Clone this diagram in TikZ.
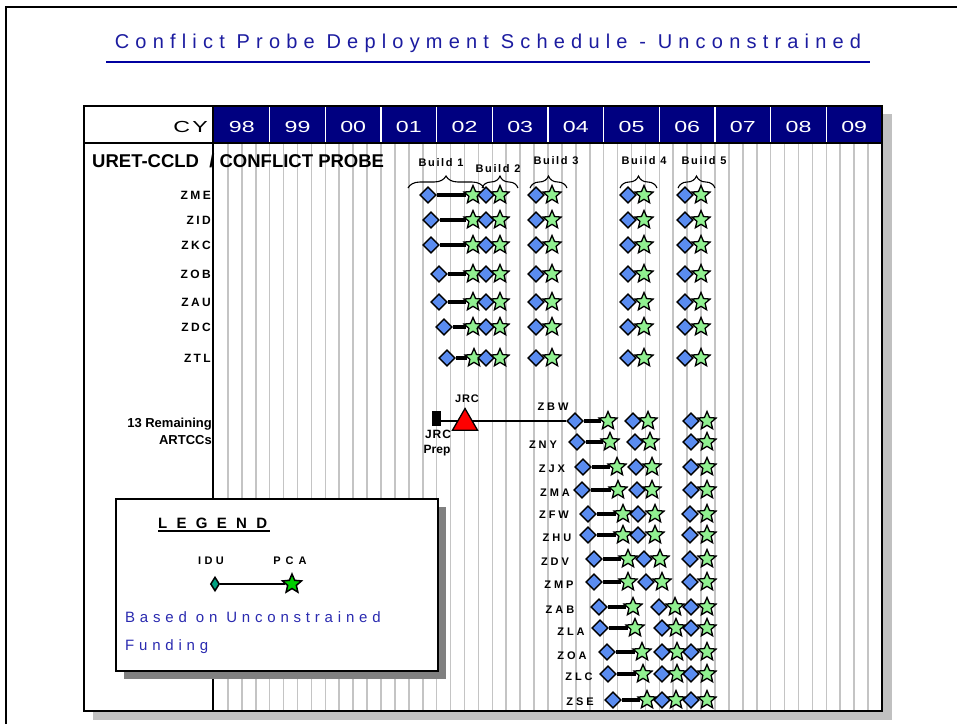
\documentclass[tikz,border=0pt]{standalone}
\usepackage{fontspec}
\setmainfont{Liberation Sans}
\usetikzlibrary{shapes.geometric,decorations.pathreplacing}
\pgfdeclarelayer{front}
\pgfsetlayers{main,front}
\definecolor{navy}{HTML}{000080}
\definecolor{ttlblue}{HTML}{1C1CA0}
\definecolor{lineblue}{HTML}{0000A0}
\definecolor{gridg}{HTML}{C4C4C4}
\definecolor{diab}{HTML}{5A8CF0}
\definecolor{starg}{HTML}{90F090}
\definecolor{legblue}{HTML}{2A2AB0}
\definecolor{shadowg}{HTML}{C0C0C0}
\definecolor{legshadow}{HTML}{808080}
\definecolor{legteal}{HTML}{00A080}
\definecolor{leggreen}{HTML}{00D000}
\newcommand\fs[1]{\fontsize{#1}{#1}\selectfont}
\newcommand\lsp[1]{\addfontfeature{LetterSpace=#1}}
\tikzset{
  dia/.style={diamond,draw=black,line width=1.4pt,fill=diab,minimum width=16.5pt,minimum height=16.5pt,inner sep=0pt},
  sta/.style={star,star points=5,star point ratio=2.2,draw=black,line width=1.3pt,fill=starg,minimum size=19pt,inner sep=0pt},
  bar/.style={line width=4.5pt,black},
  gridl/.style={gridg,line width=1.6pt},
  rowlab/.style={font=\fs{12}\bfseries\lsp{20},inner sep=0pt,anchor=east},
  lowlab/.style={font=\fs{11}\bfseries\lsp{27},inner sep=0pt},
  buildlab/.style={font=\fs{11}\bfseries\lsp{15},inner sep=0pt},
  yearlab/.style={text=white,inner sep=0pt},
  bracest/.style={decorate,decoration={brace,amplitude=12pt},line width=1.1pt},
}
\newcommand\mkb[4]{%
  \begin{pgfonlayer}{front}
  \node[dia] (#1d) at (#3,#2) {};
  \node[sta] (#1s) at (#4,#2) {};
  \end{pgfonlayer}
  \draw[bar] (#1d) -- (#1s);}
\newcommand\mk[4]{%
  \begin{pgfonlayer}{front}
  \node[dia] (#1d) at (#3,#2) {};
  \node[sta] (#1s) at (#4,#2) {};
  \end{pgfonlayer}}
\begin{document}
\begin{tikzpicture}[x=1pt,y=-1pt]
\useasboundingbox (0,0) rectangle (957,724);
\fill[white] (0,0) rectangle (957,724);
% outer frame
\draw[line width=2.5pt] (6,724) -- (6,7) -- (957,7);
% title
\node[font=\fs{20}\lsp{31},text=ttlblue,inner sep=0pt] (title) at (488,43) {Conflict Probe Deployment Schedule - Unconstrained};
\draw[lineblue,line width=2.2pt] (106,62) -- (870,62);
% table shadow and body
\fill[shadowg] (93,114) rectangle (892,720);
\fill[white] (84,106) rectangle (882,711);
\fill[navy] (214,106) rectangle (882,143);
\foreach \k in {1,...,11} \draw[white,line width=1.6pt] ({214+\k*55.667},106) -- ++(0,37);
\foreach \k in {1,...,47} \draw[gridl] ({214+\k*55.667/4},144) -- ++(0,567);
\draw[line width=2pt] (84,106) rectangle (882,711);
\draw[line width=2pt] (84,143) -- (882,143);
\draw[line width=2pt] (213,106) -- (213,711);
% header
\node[inner sep=0pt,anchor=east] (cy) at (208,127) {\scalebox{1.45}[1]{\fs{16}\lsp{10}CY}};
\foreach \yr [count=\i from 0] in {98,99,00,01,02,03,04,05,06,07,08,09}
  \node[yearlab] (yr\i) at ({214+(\i+0.5)*55.667},127) {\scalebox{1.45}[1]{\fs{16}\yr}};
% section labels
\node[font=\fs{18.5}\bfseries,inner sep=0pt,anchor=west] (uret) at (92,161) {URET-CCLD\ \ / CONFLICT PROBE};
\node[font=\fs{13}\bfseries,inner sep=0pt,anchor=east] (rem1) at (212,424) {13 Remaining};
\node[font=\fs{13}\bfseries,inner sep=0pt,anchor=east] (rem2) at (212,440) {ARTCCs};
% builds
\node[buildlab] (b1) at (441,163) {Build 1};
\node[buildlab] (b2) at (498,169) {Build 2};
\node[buildlab] (b3) at (556,161) {Build 3};
\node[buildlab] (b4) at (644,161) {Build 4};
\node[buildlab] (b5) at (704,161) {Build 5};
\draw[bracest] (408,188) -- (484,188);
\draw[bracest] (482,188) -- (518,188);
\draw[bracest] (530,188) -- (567,188);
\draw[bracest] (620,188) -- (657,188);
\draw[bracest] (678,188) -- (715,188);
% top rows
\foreach \n/\y/\a/\b in {ZME/195/428/473,ZID/220/431/473,ZKC/245/431/473,ZOB/274/439/473,ZAU/302/439/473,ZDC/327/444/473,ZTL/358/447/474}{
  \node[rowlab] (l\n) at (211,\y) {\n};
  \mkb{\n a}{\y}{\a}{\b}
  \mk{\n b}{\y}{486}{500}
  \mk{\n c}{\y}{536}{552}
  \mk{\n e}{\y}{628}{644}
  \mk{\n f}{\y}{685}{701}
}
% lower rows
\foreach \n/\y/\lx/\ly/\da/\sa/\db/\sb/\dc/\sc in {
  ZBW/421/553/407/575/608/633/648/691/707,
  ZNY/442/543/445/577/610/635/650/691/707,
  ZJX/467/552/469/583/617/636/652/691/707,
  ZMA/490/555/493/582/618/637/652/691/707,
  ZFW/514/554/515/588/623/638/655/690/707,
  ZHU/535/557/538/588/623/638/655/690/707,
  ZDV/559/555/562/594/628/644/660/690/707,
  ZMP/582/559/585/594/628/646/662/690/707,
  ZAB/607/560/610/599/633/659/675/691/707,
  ZLA/628/571/632/600/635/662/676/691/707,
  ZOA/652/572/656/607/642/662/677/691/707,
  ZLC/674/579/677/608/643/662/677/691/707,
  ZSE/700/580/702/613/647/662/676/691/707}{
  \node[lowlab] (l\n) at (\lx,\ly) {\n};
  \mkb{\n a}{\y}{\da}{\sa}
  \mk{\n b}{\y}{\db}{\sb}
  \mk{\n c}{\y}{\dc}{\sc}
}
% JRC
\begin{pgfonlayer}{front}
\node[draw=black,fill=black,minimum width=8pt,minimum height=14pt,inner sep=0pt] (jrcprep) at (436,418) {};
\node[regular polygon,regular polygon sides=3,draw=black,line width=1.3pt,fill=red,minimum size=29pt,inner sep=0pt] (jrc) at (465,423) {};
\end{pgfonlayer}
\draw[line width=1.5pt] (jrcprep.east |- ZBWad) -- (ZBWad);
\node[font=\fs{11}\bfseries\lsp{8},inner sep=0pt] (jrct) at (467,399) {JRC};
\node[font=\fs{12}\bfseries\lsp{8},inner sep=0pt] (jrcpt1) at (438,434) {JRC};
\node[font=\fs{12}\bfseries,inner sep=0pt] (jrcpt2) at (437,451) {Prep};
% legend
\fill[legshadow] (124,507) rectangle (446,679);
\draw[fill=white,line width=2pt] (116,499) rectangle (438,671);
\node[font=\fs{15}\bfseries\lsp{62},inner sep=0pt,anchor=base west] (legt) at (158,528) {LEGEND};
\draw[line width=1.3pt] (158,531) -- (270,531);
\node[font=\fs{11}\bfseries\lsp{30},inner sep=0pt] (idu) at (211,561) {IDU};
\node[font=\fs{11}\bfseries\lsp{45},inner sep=0pt] (pca) at (290,561) {PCA};
\begin{pgfonlayer}{front}
\node[diamond,draw=black,line width=1.5pt,fill=legteal,minimum width=9pt,minimum height=14pt,inner sep=0pt] (legd) at (215,584) {};
\node[star,star points=5,star point ratio=2.2,draw=black,line width=1.5pt,fill=leggreen,minimum size=20pt,inner sep=0pt] (legs) at (292,584) {};
\end{pgfonlayer}
\draw[line width=1.5pt] (legd) -- (legs);
\node[font=\fs{15}\lsp{32},text=legblue,inner sep=0pt,anchor=west] (based) at (125,617) {Based on Unconstrained};
\node[font=\fs{15}\lsp{32},text=legblue,inner sep=0pt,anchor=west] (fund) at (125,647) {Funding};
\end{tikzpicture}
\end{document}
